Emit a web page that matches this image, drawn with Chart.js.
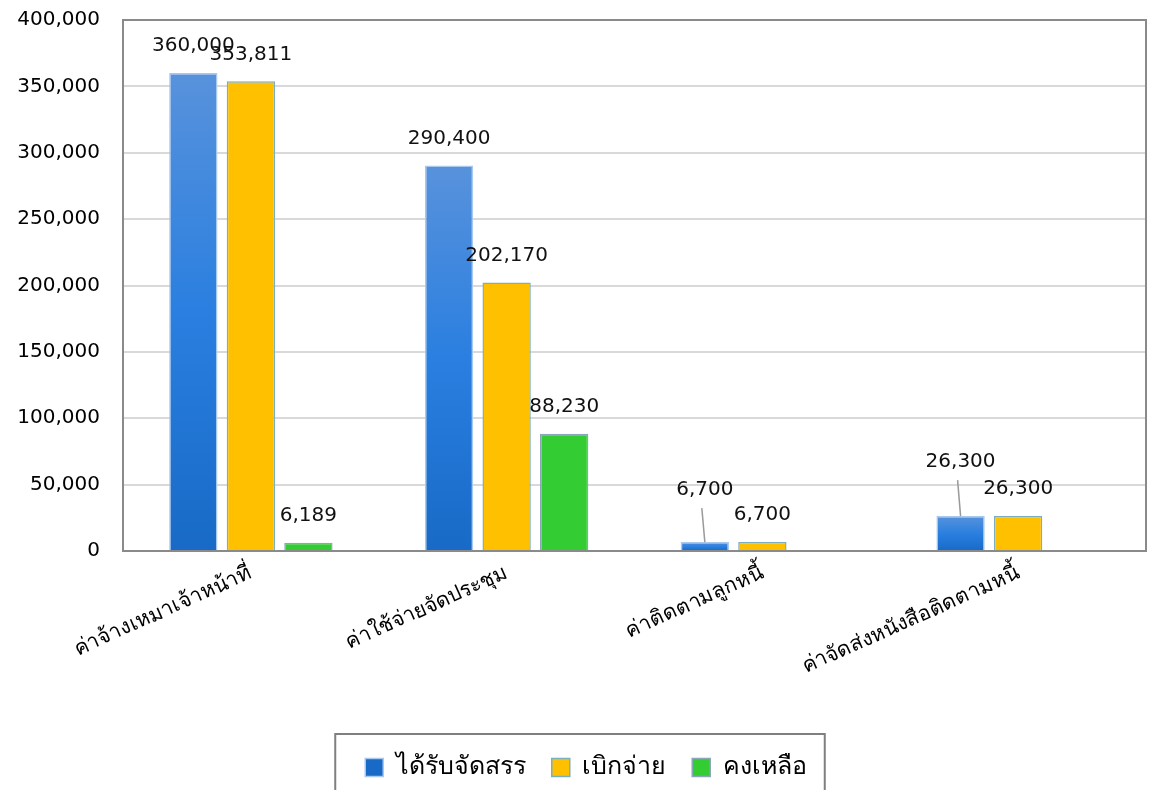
<!DOCTYPE html>
<html>
<head>
<meta charset="utf-8">
<script src="https://cdn.jsdelivr.net/npm/chart.js@4.4.1/dist/chart.umd.min.js"></script>
<style>
  html, body { margin: 0; padding: 0; background: #fff; }
  #wrap { width: 1150px; height: 790px; }
</style>
</head>
<body>
<div id="wrap"><canvas id="grafikBudget"></canvas></div>
<script>
const kategori = [
  "ค่าจ้างเหมาเจ้าหน้าที่",
  "ค่าใช้จ่ายจัดประชุม",
  "ค่าติดตามลูกหนี้",
  "ค่าจัดส่งหนังสือติดตามหนี้",
];
const nilaiDapat = [360000, 290400, 6700, 26300];
const nilaiBayar = [353811, 202170, 6700, 26300];
const nilaiSisa = [6189, 88230, 0, 0];
const labelSeri = ["ได้รับจัดสรร", "เบิกจ่าย", "คงเหลือ"];
const tickMax = 400000;
const tickStep = 50000;

const fontUtama = "'DejaVu Sans', sans-serif";
const formatAngka = (v) => v.toLocaleString("en-US");

// gradient biru per batang, dari atas (terang) ke bawah (gelap)
function warnaBiru(ctx) {
  const chart = ctx.chart;
  const y = chart.scales.y;
  if (!y || ctx.raw === undefined) return "#2a78d6";
  const atas = y.getPixelForValue(ctx.raw);
  const bawah = y.getPixelForValue(0);
  if (!isFinite(atas) || !isFinite(bawah) || atas === bawah) return "#2a78d6";
  const g = chart.ctx.createLinearGradient(0, atas, 0, bawah);
  g.addColorStop(0, "#5892dc");
  g.addColorStop(0.5, "#2a7fe0");
  g.addColorStop(1, "#186ac6");
  return g;
}

// label angka di atas batang, beberapa diangkat dengan garis penunjuk
const labelAngka = {
  id: "labelAngka",
  afterDatasetsDraw(chart, args, opts) {
    const ctx = chart.ctx;
    ctx.save();
    ctx.font = "20px " + fontUtama;
    ctx.fillStyle = "#111";
    ctx.textAlign = "center";
    ctx.textBaseline = "middle";
    chart.data.datasets.forEach((ds, di) => {
      const meta = chart.getDatasetMeta(di);
      meta.data.forEach((bar, i) => {
        const v = ds.data[i];
        if (!v) return;
        const angkat = (opts.angkat[di] && opts.angkat[di][i]) || 0;
        const ly = bar.y - 27 - angkat;
        if (angkat) {
          ctx.strokeStyle = "#9a9a9a";
          ctx.lineWidth = 1.5;
          ctx.beginPath();
          ctx.moveTo(bar.x - 3, ly + 18);
          ctx.lineTo(bar.x, bar.y);
          ctx.stroke();
        }
        ctx.fillText(formatAngka(v), bar.x, ly);
      });
    });
    ctx.restore();
  },
};

// bingkai area plot dan kotak legenda
const bingkai = {
  id: "bingkai",
  afterLayout(chart) {
    // legenda sedikit digeser ke kanan seperti di gambar asli
    const lg = chart.legend;
    const geser = 13;
    lg.left += geser;
    lg.right += geser;
    (lg.legendHitBoxes || []).forEach((b) => (b.left += geser));
  },
  afterDraw(chart) {
    const ctx = chart.ctx;
    const a = chart.chartArea;
    ctx.save();
    ctx.strokeStyle = "#8a8a8a";
    ctx.lineWidth = 2;
    ctx.strokeRect(a.left, a.top, a.right - a.left, a.bottom - a.top);
    const lg = chart.legend;
    const kotak = lg.legendHitBoxes;
    if (kotak && kotak.length) {
      const kiri = Math.min(...kotak.map((b) => b.left)) - 30;
      const kanan = Math.max(...kotak.map((b) => b.left + b.width)) + 18;
      ctx.strokeStyle = "#7f7f7f";
      ctx.lineWidth = 2;
      ctx.strokeRect(kiri, lg.top + 5, kanan - kiri, 100);
    }
    ctx.restore();
  },
};

const grafik = new Chart(document.getElementById("grafikBudget").getContext("2d"), {
  type: "bar",
  data: {
    labels: kategori,
    datasets: [
      {
        label: labelSeri[0],
        data: nilaiDapat,
        backgroundColor: warnaBiru,
        borderColor: "#a9c8ee",
        borderWidth: 1.5,
      },
      {
        label: labelSeri[1],
        data: nilaiBayar,
        backgroundColor: "#ffc000",
        borderColor: "#7aaec0",
        borderWidth: 1.5,
      },
      {
        label: labelSeri[2],
        data: nilaiSisa,
        backgroundColor: "#33cc33",
        borderColor: "#8aa6b8",
        borderWidth: 1.5,
      },
    ],
  },
  plugins: [labelAngka, bingkai],
  options: {
    responsive: true,
    maintainAspectRatio: false,
    animation: false,
    categoryPercentage: 0.675,
    barPercentage: 0.84,
    layout: { padding: { top: 20, right: 4, left: 0, bottom: 0 } },
    scales: {
      x: {
        grid: { display: false },
        border: { display: false },
        afterFit: (scale) => {
          scale.height = 178;
        },
        ticks: {
          color: "#000",
          font: { family: fontUtama, size: 21 },
          minRotation: 24,
          maxRotation: 24,
          labelOffset: 0,
          padding: 2,
        },
      },
      y: {
        min: 0,
        max: tickMax,
        grid: {
          color: "#d9d9d9",
          lineWidth: 2,
          drawTicks: true,
          tickLength: 23,
          tickColor: "rgba(0,0,0,0)",
        },
        border: { display: false },
        afterFit: (scale) => {
          scale.width = 123;
        },
        ticks: {
          stepSize: tickStep,
          color: "#000",
          padding: 0,
          font: { family: fontUtama, size: 20 },
          callback: (v) => formatAngka(v),
        },
      },
    },
    plugins: {
      tooltip: { enabled: false },
      labelAngka: {
        angkat: { 0: { 2: 25, 3: 27 } },
      },
      legend: {
        position: "bottom",
        labels: {
          color: "#000",
          font: { family: fontUtama, size: 25 },
          boxWidth: 18,
          boxHeight: 18,
          padding: 26,
        },
      },
    },
  },
});
</script>
</body>
</html>
